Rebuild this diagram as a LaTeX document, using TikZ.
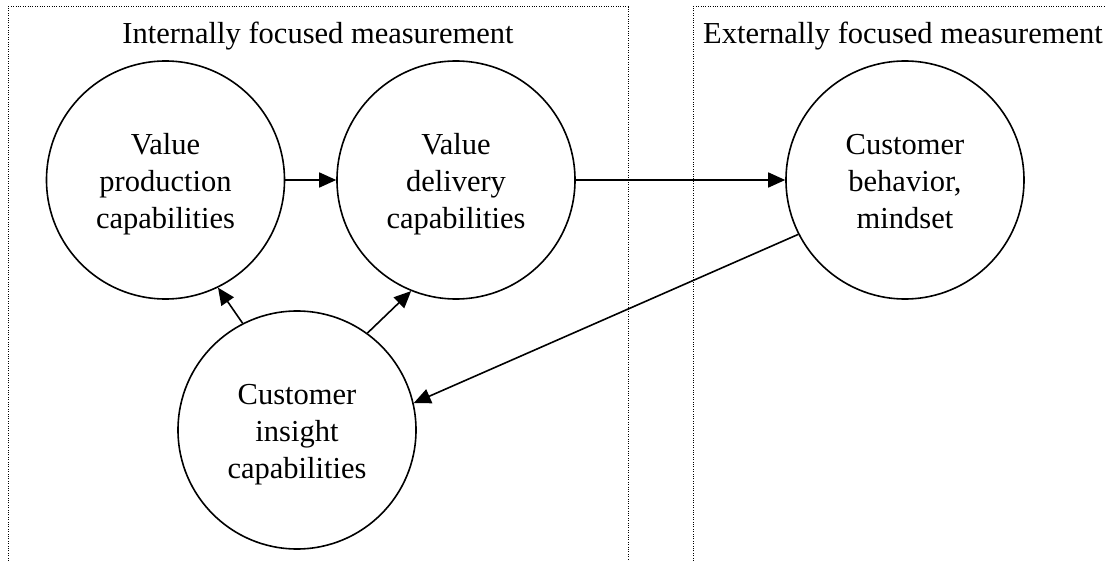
\documentclass[tikz,border=0pt]{standalone}
\usepackage{fontspec}
\setmainfont{Liberation Serif}
\usetikzlibrary{arrows.meta}
\newcommand{\circtext}[1]{\raisebox{-4pt}[\height][\depth]{\begin{tabular}{@{}c@{}}#1\end{tabular}}}
\tikzset{
  circ/.style={draw, circle, line width=1.6pt, minimum size=238pt, inner sep=0pt, align=center, font=\fontsize{30.5}{37}\selectfont},
  lbl/.style={anchor=base, inner sep=0pt, font=\fontsize{30.5}{37}\selectfont},
  arr/.style={line width=1.6pt, -{Triangle[length=17pt,width=15pt]}},
  boxline/.style={line width=1pt, dash pattern=on 1pt off 1.4pt}
}
\begin{document}
\begin{tikzpicture}[x=1pt,y=-1pt]
\useasboundingbox (0,0) rectangle (1106,561);
% dotted region frames
\draw[boxline] (8,561) -- (8,7) -- (628,7) -- (628,561);
\draw[boxline] (693,561) -- (693,7) -- (1106,7);
% region titles
\node[lbl] (tin) at (318,44) {Internally focused measurement};
\node[lbl] (tex) at (903,44) {Externally focused measurement};
% circles
\node[circ] (c1) at (165.5,180) {\circtext{Value\\production\\capabilities}};
\node[circ] (c2) at (456,180) {\circtext{Value\\delivery\\capabilities}};
\node[circ] (c3) at (905,180) {\circtext{Customer\\behavior,\\mindset}};
\node[circ] (c4) at (297,430) {\circtext{Customer\\insight\\capabilities}};
% connectors
\draw[arr] (c1) -- (c2);
\draw[arr] (c2) -- (c3);
\draw[arr] (c4.117) -- (c1.-64);
\draw[arr] (c4.54) -- (c2.-112);
\draw[arr] (c3.207) -- (c4.13);
\end{tikzpicture}
\end{document}
